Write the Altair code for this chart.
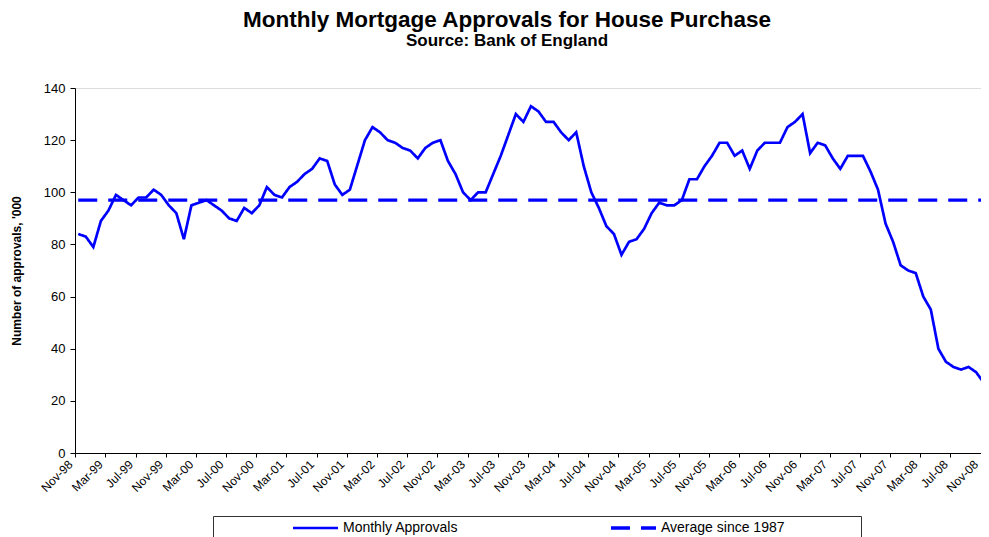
import altair as alt
import pandas as pd

# ---- data (thousands of approvals, Nov-98 .. Nov-08) ----
approvals = [
    84, 83, 79, 89, 93, 99, 97, 95, 98, 98, 101, 99,          # Nov-98 .. Oct-99
    95, 92, 82, 95, 96, 97, 95, 93, 90, 89, 94, 92,           # Nov-99 .. Oct-00
    95, 102, 99, 98, 102, 104, 107, 109, 113, 112, 103, 99,   # Nov-00 .. Oct-01
    101, 110.5, 120, 125, 123, 120, 119, 117, 116, 113, 117, 119,  # Nov-01 .. Oct-02
    120, 112, 107, 100, 97, 100, 100, 107, 114, 122, 130, 127,     # Nov-02 .. Oct-03
    133, 131, 127, 127, 123, 120, 123, 110, 100, 94, 87, 84,       # Nov-03 .. Oct-04
    76, 81, 82, 86, 92, 96, 95, 95, 97, 105, 105, 110,             # Nov-04 .. Oct-05
    114, 119, 119, 114, 116, 109, 116, 119, 119, 119, 125, 127,    # Nov-05 .. Oct-06
    130, 115, 119, 118, 113, 109, 114, 114, 114, 108, 101, 88,     # Nov-06 .. Oct-07
    81, 72, 70, 69, 60, 55, 40, 35, 33, 32, 33, 31,                # Nov-07 .. Oct-08
    27,                                                            # Nov-08
]
average_since_1987 = 97

tick_labels = [
    "Nov-98", "Mar-99", "Jul-99", "Nov-99", "Mar-00", "Jul-00", "Nov-00",
    "Mar-01", "Jul-01", "Nov-01", "Mar-02", "Jul-02", "Nov-02", "Mar-03",
    "Jul-03", "Nov-03", "Mar-04", "Jul-04", "Nov-04", "Mar-05", "Jul-05",
    "Nov-05", "Mar-06", "Jul-06", "Nov-06", "Mar-07", "Jul-07", "Nov-07",
    "Mar-08", "Jul-08", "Nov-08",
]
y_ticks = [0, 20, 40, 60, 80, 100, 120, 140]
series_names = ["Monthly Approvals", "Average since 1987"]

months = pd.date_range("1998-11-01", periods=len(approvals), freq="MS").strftime("%b-%y")

rows = []
for i, v in enumerate(approvals):
    rows.append({"idx": i, "month": months[i], "series": series_names[0], "value": v})
for i in range(len(approvals)):
    rows.append({"idx": i, "month": months[i], "series": series_names[1], "value": average_since_1987})
df = pd.DataFrame(rows)

# category-axis style: tick marks sit on the boundary before each labelled month
tick_offset = -0.4
tick_values = [4 * k + tick_offset for k in range(len(tick_labels))]
label_expr = "[" + ",".join(f"'{t}'" for t in tick_labels) + "][round((datum.value - (" + str(tick_offset) + ")) / 4)]"

FONT = "Liberation Sans"
BLUE = "#0000FF"

legend = alt.Legend(
    title=None,
    orient="none",
    direction="horizontal",
    columns=2,
    legendX=216,
    legendY=433,
    symbolType="stroke",
    symbolSize=2025,
    clipHeight=14,
    labelOffset=3,
    columnPadding=150,
    labelFont=FONT,
    labelFontSize=14,
    labelColor="black",
    padding=0,
)

lines = alt.Chart(df).mark_line(clip=True).encode(
    x=alt.X(
        "idx:Q",
        scale=alt.Scale(domain=[-0.43, 119.65], nice=False, zero=False),
        axis=alt.Axis(
            values=tick_values,
            labelExpr=label_expr,
            labelAngle=315,
            labelAlign="right",
            labelBaseline="middle",
            labelPadding=5,
            labelOffset=-5,
            labelFontSize=12,
            labelFont=FONT,
            labelColor="black",
            tickSize=4,
            tickColor="black",
            domainColor="black",
            grid=False,
            title=None,
            labelOverlap=False,
            labelBound=False,
        ),
    ),
    y=alt.Y(
        "value:Q",
        scale=alt.Scale(domain=[0, 140], nice=False),
        axis=alt.Axis(
            values=y_ticks,
            title="Number of approvals, '000",
            titleFont=FONT,
            titleFontSize=12,
            titleFontWeight="bold",
            titleColor="black",
            titlePadding=20,
            labelFont=FONT,
            labelFontSize=13,
            labelColor="black",
            labelPadding=5,
            tickSize=5,
            tickColor="black",
            domainColor="black",
            grid=False,
        ),
    ),
    color=alt.Color("series:N", scale=alt.Scale(domain=series_names, range=[BLUE, BLUE]), legend=legend),
    strokeDash=alt.StrokeDash("series:N", scale=alt.Scale(domain=series_names, range=[[1, 0], [19, 11]]), legend=legend),
    strokeWidth=alt.StrokeWidth("series:N", scale=alt.Scale(domain=series_names, range=[2.7, 3.4]), legend=legend),
    detail="series:N",
)

legend_frame = alt.Chart(alt.Data(values=[{"k": 1}])).mark_rect(
    fillOpacity=0, stroke="#333333", strokeWidth=1
).encode(
    x=alt.value(138.5), x2=alt.value(786.5), y=alt.value(428.5), y2=alt.value(470)
)

chart = alt.layer(legend_frame, lines).properties(
    width=906,
    height=365,
    autosize=alt.AutoSizeParams(type="none"),
    padding={"left": 67, "top": 80, "right": 0, "bottom": 84},
    title=alt.TitleParams(
        text="Monthly Mortgage Approvals for House Purchase",
        subtitle="Source: Bank of England",
        anchor="middle",
        dx=-21,
        font=FONT,
        fontSize=22.5,
        fontWeight="bold",
        color="black",
        subtitleFont=FONT,
        subtitleFontSize=17,
        subtitleFontWeight="bold",
        subtitleColor="black",
        subtitlePadding=2,
        offset=33,
    ),
).configure_view(stroke="#808080", strokeWidth=1).configure(background="white")

chart.save("out.html", embed_options={"renderer": "svg", "actions": False})
